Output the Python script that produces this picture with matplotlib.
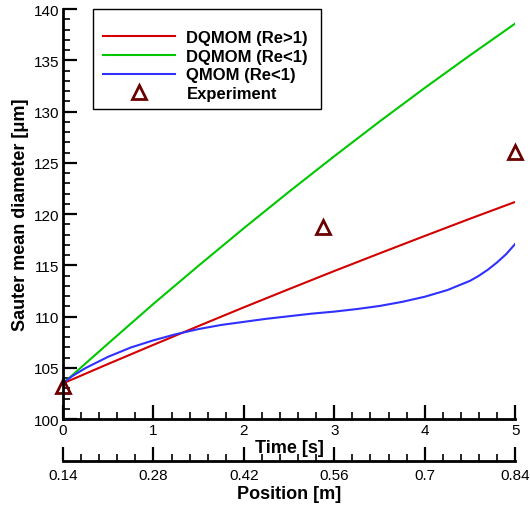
import matplotlib.pyplot as plt
import numpy as np
from matplotlib.ticker import MultipleLocator, FixedLocator
from matplotlib.patches import Rectangle

plt.rcParams['font.family'] = ['Liberation Sans', 'DejaVu Sans']

# values
t_red = [0, 0.5, 1.0, 1.5, 2.0, 2.5, 3.0, 3.5, 4.0, 4.5, 5.0]
d_red = [103.5, 105.4, 107.26, 109.1, 110.92, 112.7, 114.46, 116.18, 117.88, 119.56, 121.2]

t_green = [0, 0.5, 1.0, 1.5, 2.0, 2.5, 3.0, 3.5, 4.0, 4.5, 5.0]
d_green = [103.5, 107.4, 111.26, 114.99, 118.64, 122.2, 125.66, 129.04, 132.32, 135.5, 138.6]

t_blue = [0, 0.1, 0.25, 0.5, 0.75, 1.0, 1.25, 1.5, 1.75, 2.0, 2.25, 2.5, 2.75, 3.0,
          3.25, 3.5, 3.75, 4.0, 4.25, 4.5, 4.6, 4.7, 4.8, 4.9, 5.0]
d_blue = [103.5, 104.2, 105.0, 106.1, 107.0, 107.7, 108.3, 108.8, 109.2, 109.5, 109.8,
          110.05, 110.3, 110.5, 110.75, 111.05, 111.45, 111.95, 112.6, 113.5, 114.0,
          114.6, 115.3, 116.1, 117.1]

t_exp = [0, 2.87, 5.0]
d_exp = [103.2, 118.8, 126.1]

pos_ticks = [0.14, 0.28, 0.42, 0.56, 0.7, 0.84]

fig = plt.figure(figsize=(5.3, 5.1), dpi=100)
ax = fig.add_axes([0.119, 0.176, 0.853, 0.804])

ax.plot(t_red, d_red, color='#d40000', lw=1.5, label='DQMOM (Re>1)')
ax.plot(t_green, d_green, color='#00c800', lw=1.5, label='DQMOM (Re<1)')
ax.plot(t_blue, d_blue, color='#3030ff', lw=1.5, label='QMOM (Re<1)')
ax.plot(t_exp, d_exp, ls='none', marker='^', ms=10, mfc='none', mec='#6b0000',
        mew=2, label='Experiment', clip_on=False)

ax.set_xlim(0, 5)
ax.set_ylim(100, 140)
ax.spines['top'].set_visible(False)
ax.spines['right'].set_visible(False)
for s in ['left', 'bottom']:
    ax.spines[s].set_linewidth(2)

ax.xaxis.set_major_locator(MultipleLocator(1))
ax.xaxis.set_minor_locator(MultipleLocator(0.2))
ax.yaxis.set_major_locator(MultipleLocator(5))
ax.yaxis.set_minor_locator(MultipleLocator(1))
ax.tick_params(which='major', direction='in', length=10, width=1.6, labelsize=11, pad=3)
ax.tick_params(which='minor', direction='in', length=5, width=1.2)
ax.tick_params(axis='x', pad=2.5)

ax.set_xlabel('Time [s]', fontsize=13, fontweight='bold', labelpad=2)
ax.set_ylabel('Sauter mean diameter [\u03bcm]', fontsize=13, fontweight='bold', labelpad=3)

sec = ax.secondary_xaxis(-0.1025, functions=(lambda t: 0.14 + 0.14 * t,
                                            lambda p: (p - 0.14) / 0.14))
sec.spines['bottom'].set_linewidth(2)
sec.xaxis.set_major_locator(FixedLocator(pos_ticks))
sec.xaxis.set_minor_locator(FixedLocator(np.arange(0.14, 0.8401, 0.028)))
sec.xaxis.set_major_formatter(plt.FuncFormatter(lambda v, p: ('%.2f' % v).rstrip('0')))
sec.tick_params(which='major', direction='in', length=10, width=1.6, labelsize=11, pad=5)
sec.tick_params(which='minor', direction='in', length=5, width=1.2)
sec.set_xlabel('Position [m]', fontsize=13, fontweight='bold', labelpad=2)

# legend box drawn separately (the original has extra room above the entries)
ax.add_patch(Rectangle((0.066, 0.756), 0.505, 0.244, transform=ax.transAxes,
                       fill=False, edgecolor='black', lw=1.0, zorder=5, clip_on=False))
leg = ax.legend(loc='upper left', bbox_to_anchor=(0.0885, 0.949), frameon=False,
                prop={'weight': 'bold', 'size': 12}, handlelength=4.3,
                borderpad=0, borderaxespad=0, labelspacing=0.22, handletextpad=0.7)

fig.savefig('out.png', dpi=100)
